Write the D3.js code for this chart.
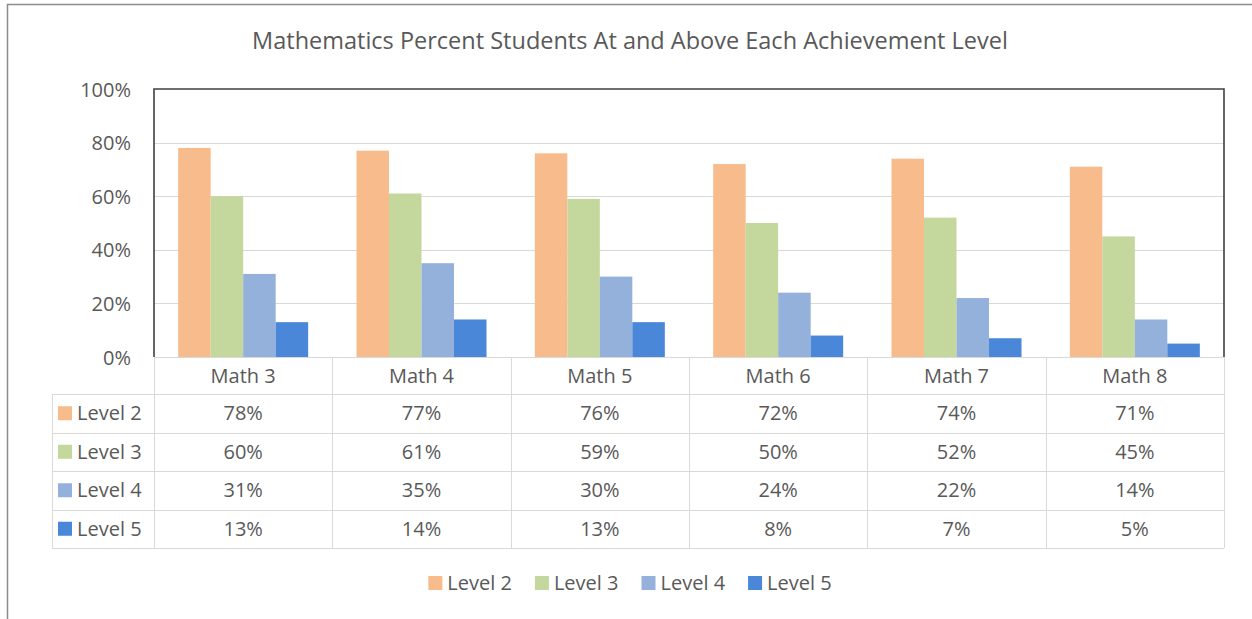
<!DOCTYPE html>
<html>
<head>
<meta charset="utf-8">
<script src="https://cdn.jsdelivr.net/npm/d3@7"></script>
<style>
  html, body { margin: 0; padding: 0; background: #fff; }
  svg { display: block; font-family: "Open Sans", "Noto Sans", sans-serif; }
</style>
</head>
<body>
<svg id="chart" width="1252" height="619"></svg>
<script>
// Chart data
const title = "Mathematics Percent Students At and Above Each Achievement Level";
const courses = ["Math 3", "Math 4", "Math 5", "Math 6", "Math 7", "Math 8"];
const levels = ["Level 2", "Level 3", "Level 4", "Level 5"];
const level2 = [78, 77, 76, 72, 74, 71];
const level3 = [60, 61, 59, 50, 52, 45];
const level4 = [31, 35, 30, 24, 22, 14];
const level5 = [13, 14, 13, 8, 7, 5];
const yTicks = [0, 20, 40, 60, 80, 100];
const colors = ["#F8BC8C", "#C4D79C", "#93B1DA", "#4A87D8"];

const seriesValues = [level2, level3, level4, level5];

const svg = d3.select("#chart");
const textColor = "#595959";
const lineColor = "#D9D9D9";
const fs = 20;

// Outer chart frame (left and top edges visible)
svg.append("path")
  .attr("d", "M7.5,619 L7.5,4.5 L1252,4.5")
  .attr("fill", "none")
  .attr("stroke", "#8c8c8c")
  .attr("stroke-width", 1.5);

// Plot geometry
const plot = { left: 154, right: 1224, top: 89, bottom: 357 };
const tableLeft = 52;
const headerBottom = 394;
const rowH = 38.5;

const x0 = d3.scaleBand().domain(courses).range([plot.left, plot.right]).padding(0);
const groupPad = (x0.bandwidth() - 130) / 2;
const x1 = d3.scaleBand().domain(levels).range([groupPad, x0.bandwidth() - groupPad]).padding(0);
const y = d3.scaleLinear().domain([0, 100]).range([plot.bottom, plot.top]);
const color = d3.scaleOrdinal().domain(levels).range(colors);

// Title
svg.append("text")
  .attr("x", 630)
  .attr("y", 49)
  .attr("text-anchor", "middle")
  .attr("font-size", 23.5)
  .attr("fill", textColor)
  .text(title);

// Gridlines
svg.append("g")
  .selectAll("line")
  .data(yTicks.filter(t => t > 0 && t < 100))
  .join("line")
  .attr("x1", plot.left).attr("x2", plot.right)
  .attr("y1", d => Math.round(y(d)) + 0.5).attr("y2", d => Math.round(y(d)) + 0.5)
  .attr("stroke", lineColor)
  .attr("stroke-width", 1);

// Y axis labels
const yAxis = d3.axisLeft(y).tickValues(yTicks).tickFormat(d => d + "%").tickSize(0).tickPadding(0);
const yg = svg.append("g").attr("transform", `translate(131,0)`).call(yAxis);
yg.select(".domain").remove();
yg.selectAll("text")
  .attr("font-size", fs)
  .attr("font-family", "\"Open Sans\", sans-serif")
  .attr("fill", textColor)
  .attr("dy", "0.35em");

// Bars
const groups = svg.append("g")
  .selectAll("g")
  .data(courses)
  .join("g")
  .attr("transform", d => `translate(${x0(d)},0)`);

groups.selectAll("rect")
  .data((d, i) => levels.map((lv, j) => ({ level: lv, value: seriesValues[j][i] })))
  .join("rect")
  .attr("x", d => x1(d.level))
  .attr("y", d => y(d.value))
  .attr("width", x1.bandwidth())
  .attr("height", d => y(0) - y(d.value))
  .attr("fill", d => color(d.level));

// Data table grid
const tableBottom = headerBottom + rowH * levels.length;
const tg = svg.append("g").attr("stroke", lineColor).attr("stroke-width", 1).attr("fill", "none");
// horizontal lines
tg.append("line").attr("x1", plot.left).attr("x2", plot.right)
  .attr("y1", plot.bottom + 0.5).attr("y2", plot.bottom + 0.5);
d3.range(levels.length + 1).forEach(i => {
  const yy = Math.round(headerBottom + i * rowH) + 0.5;
  tg.append("line").attr("x1", tableLeft).attr("x2", plot.right).attr("y1", yy).attr("y2", yy);
});
// vertical lines
courses.concat([null]).forEach((c, i) => {
  const xx = Math.round(c ? x0(c) : plot.right) + 0.5;
  tg.append("line").attr("x1", xx).attr("x2", xx).attr("y1", plot.bottom).attr("y2", tableBottom);
});
tg.append("line").attr("x1", tableLeft + 0.5).attr("x2", tableLeft + 0.5)
  .attr("y1", headerBottom).attr("y2", tableBottom);

// Plot frame (left, top, right)
svg.append("path")
  .attr("d", `M${plot.left},${plot.bottom} L${plot.left},${plot.top} L${plot.right},${plot.top} L${plot.right},${plot.bottom}`)
  .attr("fill", "none")
  .attr("stroke", "#404040")
  .attr("stroke-width", 1.6);

// Table header
svg.append("g")
  .selectAll("text")
  .data(courses)
  .join("text")
  .attr("x", d => x0(d) + x0.bandwidth() / 2)
  .attr("y", (plot.bottom + headerBottom) / 2)
  .attr("dy", "0.35em")
  .attr("text-anchor", "middle")
  .attr("font-size", fs)
  .attr("fill", textColor)
  .text(d => d);

// Table rows
levels.forEach((lv, j) => {
  const cy = headerBottom + j * rowH + rowH / 2;
  svg.append("rect")
    .attr("x", 58).attr("y", cy - 7).attr("width", 14).attr("height", 14)
    .attr("fill", color(lv));
  svg.append("text")
    .attr("x", 77).attr("y", cy).attr("dy", "0.35em")
    .attr("font-size", fs).attr("fill", textColor)
    .text(lv);
  svg.append("g")
    .selectAll("text")
    .data(seriesValues[j])
    .join("text")
    .attr("x", (d, i) => x0(courses[i]) + x0.bandwidth() / 2)
    .attr("y", cy).attr("dy", "0.35em")
    .attr("text-anchor", "middle")
    .attr("font-size", fs).attr("fill", textColor)
    .text(d => d + "%");
});

// Legend
const legend = svg.append("g");
let lx = 0;
levels.forEach(lv => {
  const item = legend.append("g").attr("transform", `translate(${lx},0)`);
  item.append("rect").attr("x", 0).attr("y", -7).attr("width", 14).attr("height", 14).attr("fill", color(lv));
  const t = item.append("text").attr("x", 19).attr("dy", "0.35em")
    .attr("font-size", fs).attr("fill", textColor).text(lv);
  lx += 19 + t.node().getComputedTextLength() + 23;
});
const legendW = lx - 23;
legend.attr("transform", `translate(${630 - legendW / 2},583)`);
</script>
</body>
</html>
